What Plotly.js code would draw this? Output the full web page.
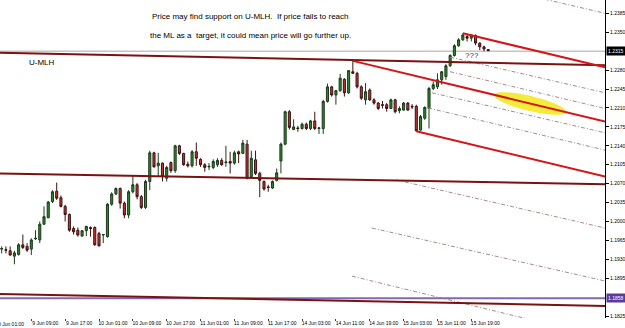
<!DOCTYPE html>
<html><head><meta charset="utf-8">
<script src="https://cdn.plot.ly/plotly-3.0.1.min.js"></script>
<style>html,body{margin:0;padding:0;background:#fff;}#chart{width:625px;height:328px;}</style>
</head><body><div id="chart"></div>
<script>
// ---- Candle data (H1 bars, EUR/USD) ----
const opens = [1.1949,1.1948,1.1946,1.1936,1.1939,1.1957,1.1954,1.1949,1.1968,1.1966,
1.1995,1.2007,1.2037,1.2056,1.2044,1.2028,1.2013,1.1987,1.1984,1.1973,
1.1983,1.1989,1.1989,1.1978,1.1975,1.1972,1.2032,1.2051,1.2061,1.2034,
1.2012,1.2055,1.2068,1.2046,1.2026,1.2074,1.2127,1.2103,1.2108,1.2080,
1.2109,1.2094,1.2140,1.2126,1.2106,1.2103,1.2129,1.2115,1.2105,1.2101,
1.2100,1.2105,1.2113,1.2109,1.2111,1.2108,1.2129,1.2126,1.2143,1.2083,
1.2114,1.2089,1.2074,1.2064,1.2062,1.2076,1.2112,1.2143,1.2203,1.2170,
1.2173,1.2172,1.2180,1.2172,1.2186,1.2172,1.2172,1.2222,1.2249,1.2234,
1.2242,1.2263,1.2238,1.2277,1.2274,1.2249,1.2225,1.2243,1.2225,1.2219,
1.2216,1.2216,1.2209,1.2225,1.2205,1.2206,1.2219,1.2213,1.2213,1.2169,
1.2191,1.2209,1.2246,1.2249,1.2262,1.2268,1.2288,1.2307,1.2325,1.2336,
1.2342,1.2339,1.2344,1.2330,1.2323,1.2318];
const highs = [1.1954,1.1954,1.1954,1.1946,1.1960,1.1976,1.1960,1.1969,1.1984,1.2000,
1.2028,1.2038,1.2058,1.2072,1.2048,1.2031,1.2015,1.1991,1.1989,1.1984,
1.1992,1.1991,1.1991,1.1981,1.1976,1.2034,1.2054,1.2063,1.2063,1.2037,
1.2058,1.2086,1.2071,1.2049,1.2077,1.2131,1.2129,1.2127,1.2109,1.2103,
1.2111,1.2142,1.2142,1.2127,1.2111,1.2132,1.2146,1.2117,1.2108,1.2108,
1.2115,1.2117,1.2117,1.2140,1.2129,1.2131,1.2131,1.2151,1.2151,1.2131,
1.2131,1.2092,1.2076,1.2068,1.2076,1.2098,1.2146,1.2205,1.2206,1.2189,
1.2177,1.2183,1.2183,1.2188,1.2203,1.2175,1.2225,1.2255,1.2251,1.2243,
1.2273,1.2265,1.2280,1.2297,1.2277,1.2252,1.2256,1.2246,1.2228,1.2221,
1.2223,1.2219,1.2227,1.2227,1.2213,1.2221,1.2221,1.2217,1.2216,1.2197,
1.2213,1.2249,1.2259,1.2274,1.2278,1.2291,1.2309,1.2328,1.2339,1.2348,
1.2346,1.2346,1.2346,1.2331,1.2325,1.2319];
const lows = [1.1941,1.1941,1.1937,1.1921,1.1937,1.1949,1.1944,1.1938,1.1966,1.1960,
1.1994,1.2006,1.2034,1.2040,1.2026,1.2000,1.1981,1.1976,1.1972,1.1972,
1.1973,1.1972,1.1955,1.1954,1.1960,1.1970,1.2029,1.2049,1.2024,1.2006,
1.2006,1.2052,1.2041,1.2023,1.2023,1.2058,1.2100,1.2083,1.2074,1.2074,
1.2090,1.2090,1.2123,1.2103,1.2100,1.2100,1.2103,1.2101,1.2092,1.2095,
1.2097,1.2101,1.2103,1.2101,1.2089,1.2105,1.2108,1.2125,1.2078,1.2081,
1.2086,1.2045,1.2057,1.2055,1.2060,1.2074,1.2089,1.2141,1.2170,1.2169,
1.2166,1.2170,1.2169,1.2169,1.2169,1.2162,1.2162,1.2220,1.2231,1.2216,
1.2240,1.2231,1.2236,1.2273,1.2246,1.2225,1.2216,1.2223,1.2216,1.2206,
1.2209,1.2203,1.2208,1.2200,1.2200,1.2205,1.2205,1.2208,1.2166,1.2168,
1.2188,1.2172,1.2243,1.2245,1.2253,1.2262,1.2286,1.2305,1.2323,1.2334,
1.2333,1.2333,1.2326,1.2317,1.2315,1.2315];
const closes = [1.1950,1.1947,1.1938,1.1942,1.1957,1.1952,1.1947,1.1966,1.1969,1.1995,
1.2009,1.2036,1.2055,1.2043,1.2028,1.2013,1.1984,1.1981,1.1975,1.1983,
1.1991,1.1987,1.1957,1.1955,1.1976,1.2032,1.2051,1.2061,1.2034,1.2012,
1.2055,1.2068,1.2046,1.2026,1.2074,1.2127,1.2101,1.2108,1.2083,1.2100,
1.2094,1.2140,1.2126,1.2105,1.2103,1.2129,1.2117,1.2105,1.2100,1.2102,
1.2111,1.2113,1.2105,1.2110,1.2108,1.2127,1.2125,1.2145,1.2080,1.2117,
1.2089,1.2076,1.2060,1.2063,1.2074,1.2090,1.2143,1.2203,1.2174,1.2175,
1.2172,1.2180,1.2172,1.2186,1.2172,1.2173,1.2222,1.2249,1.2234,1.2242,
1.2265,1.2238,1.2279,1.2274,1.2249,1.2228,1.2240,1.2225,1.2219,1.2209,
1.2215,1.2209,1.2225,1.2203,1.2209,1.2219,1.2206,1.2212,1.2168,1.2194,
1.2211,1.2246,1.2253,1.2262,1.2277,1.2288,1.2307,1.2325,1.2336,1.2345,
1.2339,1.2345,1.2330,1.2323,1.2319,1.2316];

// ---- Time axis labels (bar index of each label) ----
const tickBars = [-1,7,15,23,31,39,47,55,63,71,79,87,95,103,111];
const tickLabels = ['9 Jun 01:00','9 Jun 09:00','9 Jun 17:00','10 Jun 01:00','10 Jun 09:00','10 Jun 17:00',
'11 Jun 01:00','11 Jun 09:00','11 Jun 17:00','14 Jun 03:00','14 Jun 11:00','14 Jun 19:00',
'15 Jun 03:00','15 Jun 11:00','15 Jun 19:00'];
const priceTicks = [1.1825,1.1895,1.1930,1.1965,1.2000,1.2035,1.2070,1.2105,1.2140,1.2175,1.2210,1.2245,1.2280,1.2350,1.2385];
const currentPrice = 1.2315;
const levelPrice = 1.1858;

// ---- Drawn lines (bar index, price) ----
const uMlhX = [-0.4, 142.6],   uMlhY = [1.2312, 1.2289];
const midMlX = [-0.4, 142.6],  midMlY = [1.2089, 1.2069];
const lowMlX = [-0.4, 142.6],  lowMlY = [1.1866, 1.1844];
const levelX = [-0.4, 142.6];
const forkMedX = [83, 142.6],  forkMedY = [1.2297, 1.2185];
const forkUpX = [109, 142.6],  forkUpY = [1.2348, 1.2285];
const forkLowX = [98, 142.6],  forkLowY = [1.2167, 1.2083];
const warn0X = [128.4, 142.6], warn0Y = [1.2411, 1.2385];
const warn1X = [106.0, 142.6], warn1Y = [1.2304, 1.2238];
const warn2X = [106.0, 142.6], warn2Y = [1.2277, 1.2209];
const warn3X = [101.7, 142.6], warn3Y = [1.2238, 1.2164];
const warn4X = [100.8, 142.6], warn4Y = [1.2210, 1.2132];
const warn5X = [93.2, 142.6],  warn5Y = [1.2077, 1.1988];
const warn6X = [87.5, 142.6],  warn6Y = [1.1988, 1.1890];
const warn7X = [82.8, 127.3],  warn7Y = [1.1899, 1.1814];
// highlight on the median line: centre bar, half-length and half-width in bars / pixels
const highlightCenterBar = 124.9;

const xRange = [-0.4, 142.6];
const yRange = [1.18216, 1.24096];
const font = 'Liberation Sans, Arial, sans-serif';

const bars = opens.map((_, i) => i);
const traces = [];
function line(x, y, color, width, dash) {
  traces.push({type:'scatter', mode:'lines', x:x, y:y, hoverinfo:'skip',
    line:{color:color, width:width, dash:dash || 'solid'}});
}
const dd = '4px,2px,1px,2px';
const dc = '#a88a8a';
[[warn0X,warn0Y],[warn1X,warn1Y],[warn2X,warn2Y],[warn3X,warn3Y],[warn4X,warn4Y],
 [warn5X,warn5Y],[warn6X,warn6Y],[warn7X,warn7Y]].forEach(p => line(p[0], p[1], dc, 1, dd));
line(levelX, [levelPrice, levelPrice], '#8468ad', 2);
line(uMlhX, uMlhY, '#7a1212', 2);
line(midMlX, midMlY, '#7a1212', 2);
line(lowMlX, lowMlY, '#7a1212', 2);
traces.push({type:'candlestick', x:bars, open:opens, high:highs, low:lows, close:closes,
  hoverinfo:'skip', whiskerwidth:0,
  increasing:{fillcolor:'#2f862f', line:{color:'#1c3a1c', width:1}},
  decreasing:{fillcolor:'#c43434', line:{color:'#3d1212', width:1}}});
line(forkMedX, forkMedY, '#d41616', 2);
line(forkUpX, forkUpY, '#d41616', 2);
line(forkLowX, forkLowY, '#d41616', 2);

// Tilted ellipse path following the median line (built in plot pixel space, mapped to data)
const plotW = 605, plotH = 318;
const pxPerBar = plotW / (xRange[1] - xRange[0]);
const pricePerPx = (yRange[1] - yRange[0]) / plotH;
const medSlopePx = ((forkMedY[0] - forkMedY[1]) / pricePerPx) / ((forkMedX[1] - forkMedX[0]) * pxPerBar);
const theta = Math.atan(medSlopePx);
const cPrice = forkMedY[0] + (forkMedY[1] - forkMedY[0]) * (highlightCenterBar - forkMedX[0]) / (forkMedX[1] - forkMedX[0]);
const ea = 37, eb = 7.5;
let pathStr = '';
for (let k = 0; k <= 48; k++) {
  const t = 2 * Math.PI * k / 48;
  const u = ea * Math.cos(t), v = eb * Math.sin(t);
  const dx = u * Math.cos(theta) - v * Math.sin(theta);
  const dy = u * Math.sin(theta) + v * Math.cos(theta);
  const bx = highlightCenterBar + dx / pxPerBar;
  const py = cPrice - dy * pricePerPx;
  pathStr += (k === 0 ? 'M' : 'L') + bx.toFixed(3) + ',' + py.toFixed(6);
}
pathStr += 'Z';

const layout = {
  width:625, height:328, margin:{l:0, r:20, t:0, b:10},
  paper_bgcolor:'#fff', plot_bgcolor:'#fff', showlegend:false,
  font:{family:font, size:5, color:'#000'},
  xaxis:{range:xRange, tickvals:tickBars.slice(1), ticktext:tickLabels.slice(1),
    ticks:'outside', ticklen:2, tickcolor:'#444', tickfont:{size:5, color:'#000'},
    ticklabelshift:14, ticklabelstandoff:-2, showgrid:false, zeroline:false, showline:false,
    rangeslider:{visible:false}, fixedrange:true, automargin:false},
  yaxis:{range:yRange, side:'right', tickvals:priceTicks, ticktext:priceTicks.map(v=>v.toFixed(4)),
    ticks:'outside', ticklen:3, tickcolor:'#000', tickfont:{size:5, color:'#000'},
    showline:true, linecolor:'#000', linewidth:1, showgrid:false, zeroline:false,
    fixedrange:true, automargin:false},
  shapes:[
    {type:'path', xref:'x', yref:'y', path:pathStr,
     fillcolor:'#f3ec3a', line:{width:0}, layer:'below'},
    {type:'line', xref:'paper', yref:'y', x0:0, x1:1, y0:currentPrice, y1:currentPrice,
     line:{color:'#a8a8a8', width:1}, layer:'below'}
  ],
  annotations:[
    {xref:'paper', yref:'paper', x:150/605, y:1-17/318, xanchor:'left', yanchor:'middle', showarrow:false,
     text:'Price may find support on U-MLH.\u00a0 If price fails to reach', font:{family:font, size:8, color:'#000'}},
    {xref:'paper', yref:'paper', x:148/605, y:1-35.5/318, xanchor:'left', yanchor:'middle', showarrow:false,
     text:'the ML as a\u00a0 target, it could mean price will go further up.', font:{family:font, size:8, color:'#000'}},
    {xref:'paper', yref:'paper', x:27/605, y:1-62.5/318, xanchor:'left', yanchor:'middle', showarrow:false,
     text:'U-MLH', font:{family:font, size:8, color:'#000'}},
    {xref:'paper', yref:'paper', x:463/605, y:1-55.5/318, xanchor:'left', yanchor:'middle', showarrow:false,
     text:'???', font:{family:font, size:8, color:'#333'}},
    {xref:'paper', yref:'y', x:1, y:currentPrice, xanchor:'left', yanchor:'middle', xshift:1, showarrow:false,
     text:currentPrice.toFixed(4), bgcolor:'#000', borderpad:1, font:{family:font, size:5, color:'#fff'}},
    {xref:'paper', yref:'y', x:1, y:levelPrice, xanchor:'left', yanchor:'middle', xshift:1, showarrow:false,
     text:levelPrice.toFixed(4), bgcolor:'#5b3a98', borderpad:1, font:{family:font, size:5, color:'#fff'}},
    {xref:'paper', yref:'paper', x:(tickBars[0]-xRange[0])/(xRange[1]-xRange[0]), y:0, yshift:-6,
     xanchor:'center', yanchor:'middle', xshift:14, showarrow:false,
     text:tickLabels[0], font:{family:font, size:5, color:'#000'}}
  ]
};
Plotly.newPlot('chart', traces, layout, {staticPlot:true, displayModeBar:false});
</script></body></html>
